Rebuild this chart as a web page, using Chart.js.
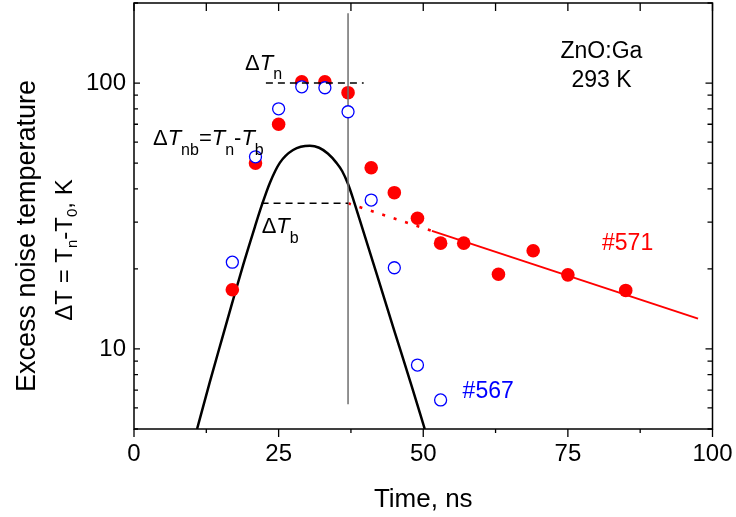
<!DOCTYPE html>
<html>
<head>
<meta charset="utf-8">
<script src="https://cdn.jsdelivr.net/npm/chart.js@4.4.1/dist/chart.umd.min.js"></script>
<style>
  html, body { margin: 0; padding: 0; background: #fff; }
  #wrap { width: 736px; height: 517px; }
</style>
</head>
<body>
<div id="wrap"><canvas id="noise"></canvas></div>
<script>
// sample #571 (filled) and #567 (open), excess noise temperature in K
var time571 = [17, 21, 25, 29, 33, 37, 41, 45, 49, 53, 57, 63, 69, 75, 85];
var noise571 = [16.7, 50, 70, 101, 101, 92, 48, 38.7, 31, 25, 25, 19.1, 23.4, 19, 16.6];
var time567 = [17, 21, 25, 29, 33, 37, 41, 45, 49, 53];
var noise567 = [21.2, 52.8, 80, 96.8, 96, 78, 36.3, 20.2, 8.7, 6.43];

// bias pulse shape
var pulseTime = [10.9, 13.1, 15.15, 16.9, 18.9, 20.9, 22.05, 23.5, 25.2, 27.5, 30.4, 32, 33.5, 35, 36, 37, 38, 39, 42, 45, 48, 50.26];
var pulseNoise = [5, 7.5, 10.8, 14.7, 20.8, 28.8, 34.5, 42.2, 50.1, 56, 58.1, 57.1, 54.3, 50.1, 46.6, 41.7, 36, 30.7, 19, 11.7, 7.25, 5];

// exponential decay fit for #571
var fitTime = [51.5, 97.5];
var fitNoise = [27.8, 13.0];
var fitExtTime = [37, 51.5];
var fitExtNoise = [35.3, 27.8];

// levels and pulse-end marker
var levelNTime = [22.8, 39.7];
var levelNNoise = [100, 100];
var levelBTime = [22.05, 37];
var levelBNoise = [35.3, 35.3];
var markTime = [37, 37];
var markNoise = [6.2, 183];

// axis ticks
var xMajor = [0, 25, 50, 75, 100];
var xMinor = [12.5, 37.5, 62.5, 87.5];
var yMajor = [10, 100];
var yMinor = [5, 6, 7, 8, 9, 20, 30, 40, 50, 60, 70, 80, 90, 200];

var FONT = "'Liberation Sans', Arial, Helvetica, sans-serif";

function pts(xs, ys) {
  return xs.map(function (x, i) { return { x: x, y: ys[i] }; });
}

function partFont(p, size, subScale) {
  var s = p.sub ? Math.round(size * subScale) : size;
  return (p.it ? 'italic ' : '') + s + 'px ' + FONT;
}

// text with italic and subscript pieces
function drawRich(ctx, parts, x, y, size, align, subScale, subShift) {
  var w = 0;
  parts.forEach(function (p) {
    ctx.font = partFont(p, size, subScale);
    w += ctx.measureText(p.t).width;
  });
  var cx = align === 'center' ? x - w / 2 : x;
  ctx.textAlign = 'left';
  ctx.textBaseline = 'alphabetic';
  parts.forEach(function (p) {
    ctx.font = partFont(p, size, subScale);
    ctx.fillText(p.t, cx, y + (p.sub ? subShift : 0));
    cx += ctx.measureText(p.t).width;
  });
}

var framePlugin = {
  id: 'frameAndText',
  afterDraw: function (chart) {
    var ctx = chart.ctx;
    var a = chart.chartArea;
    var sx = chart.scales.x, sy = chart.scales.y;
    ctx.save();
    ctx.strokeStyle = '#000';
    ctx.lineWidth = 1.5;
    ctx.strokeRect(a.left, a.top, a.right - a.left, a.bottom - a.top);

    ctx.lineWidth = 1.3;
    ctx.beginPath();
    xMajor.concat(xMinor).forEach(function (v) {
      var px = sx.getPixelForValue(v);
      var len = xMajor.indexOf(v) >= 0 ? 8 : 4;
      ctx.moveTo(px, a.bottom); ctx.lineTo(px, a.bottom + len);
      ctx.moveTo(px, a.top); ctx.lineTo(px, a.top + 8);
    });
    yMajor.concat(yMinor).forEach(function (v) {
      var py = sy.getPixelForValue(v);
      var major = yMajor.indexOf(v) >= 0;
      ctx.moveTo(a.left, py); ctx.lineTo(a.left + (major ? 6 : 4), py);
      ctx.moveTo(a.right, py); ctx.lineTo(a.right - (major ? 7 : 5), py);
    });
    ctx.stroke();

    ctx.fillStyle = '#000';
    // axis titles
    ctx.font = '26px ' + FONT;
    ctx.textAlign = 'center';
    ctx.textBaseline = 'alphabetic';
    ctx.fillText('Time, ns', (a.left + a.right) / 2, 507);

    ctx.save();
    ctx.translate(35, 236);
    ctx.rotate(-Math.PI / 2);
    ctx.font = '27px ' + FONT;
    ctx.textAlign = 'center';
    ctx.fillText('Excess noise temperature', 0, 0);
    ctx.restore();

    ctx.save();
    ctx.translate(71.5, 250);
    ctx.rotate(-Math.PI / 2);
    drawRich(ctx, [{ t: 'ΔT = T' }, { t: 'n', sub: 1 }, { t: '-T' }, { t: '0', sub: 1 }, { t: ', K' }],
      0, 0, 24, 'center', 0.62, 5);
    ctx.restore();

    // labels placed in data units
    function at(x, y) { return [sx.getPixelForValue(x), sy.getPixelForValue(y)]; }
    var p;
    ctx.font = '23px ' + FONT;
    ctx.textAlign = 'center';
    p = at(80.8, 123.9); ctx.fillText('ZnO:Ga', p[0], p[1]);
    p = at(80.8, 96.4); ctx.fillText('293 K', p[0], p[1]);

    ctx.textAlign = 'left';
    ctx.fillStyle = '#ff0000';
    p = at(80.9, 23.5); ctx.fillText('#571', p[0], p[1]);
    ctx.fillStyle = '#0000ff';
    p = at(56.8, 6.53); ctx.fillText('#567', p[0], p[1]);

    ctx.fillStyle = '#000';
    p = at(19.2, 112);
    drawRich(ctx, [{ t: 'Δ' }, { t: 'T', it: 1 }, { t: 'n', sub: 1 }], p[0], p[1], 22, 'left', 0.72, 9.5);
    p = at(3.28, 58.3);
    drawRich(ctx, [{ t: 'Δ' }, { t: 'T', it: 1 }, { t: 'nb', sub: 1 }, { t: '=' }, { t: 'T', it: 1 },
      { t: 'n', sub: 1 }, { t: '-' }, { t: 'T', it: 1 }, { t: 'b', sub: 1 }], p[0], p[1], 22, 'left', 0.72, 10);
    p = at(22.07, 27.2);
    drawRich(ctx, [{ t: 'Δ' }, { t: 'T', it: 1 }, { t: 'b', sub: 1 }], p[0], p[1], 22, 'left', 0.72, 10);
    ctx.restore();
  }
};

new Chart(document.getElementById('noise'), {
  type: 'scatter',
  data: {
    datasets: [
      {
        data: pts(levelNTime, levelNNoise), showLine: true, order: 0,
        borderColor: '#000', borderWidth: 1.5, borderDash: [7, 5], pointRadius: 0
      },
      {
        data: pts(levelBTime, levelBNoise), showLine: true, order: 0,
        borderColor: '#000', borderWidth: 1.5, borderDash: [7, 5], pointRadius: 0
      },
      {
        label: '#567', data: pts(time567, noise567), order: 1,
        pointRadius: 6, pointBorderWidth: 1.3, pointBorderColor: '#0000ff', pointBackgroundColor: '#fff'
      },
      {
        data: pts(markTime, markNoise), showLine: true, order: 2,
        borderColor: '#6e6e6e', borderWidth: 1.5, pointRadius: 0
      },
      {
        label: '#571', data: pts(time571, noise571), order: 3,
        pointRadius: 6.8, pointBorderWidth: 0, pointBackgroundColor: '#ff0000'
      },
      {
        data: pts(fitTime, fitNoise), showLine: true, order: 4,
        borderColor: '#ff0000', borderWidth: 2, pointRadius: 0
      },
      {
        data: pts(fitExtTime, fitExtNoise), showLine: true, order: 4,
        borderColor: '#ff0000', borderWidth: 2.5, borderDash: [3, 9], pointRadius: 0
      },
      {
        data: pts(pulseTime, pulseNoise), showLine: true, order: 5, cubicInterpolationMode: 'monotone',
        borderColor: '#000', borderWidth: 2.5, pointRadius: 0
      }
    ]
  },
  options: {
    responsive: true,
    maintainAspectRatio: false,
    animation: false,
    layout: { autoPadding: false, padding: { top: 3, right: 23.5, bottom: 0, left: 0 } },
    plugins: { legend: { display: false }, tooltip: { enabled: false } },
    scales: {
      x: {
        type: 'linear', min: 0, max: 100,
        afterBuildTicks: function (s) { s.ticks = xMajor.map(function (v) { return { value: v }; }); },
        afterFit: function (s) { s.height = 88; s.paddingLeft = 0; s.paddingRight = 0; },
        grid: { display: false, drawTicks: false },
        border: { display: false },
        ticks: { font: { size: 24, family: FONT }, color: '#000', padding: 11, maxRotation: 0, autoSkip: false }
      },
      y: {
        type: 'logarithmic', min: 5, max: 200,
        afterBuildTicks: function (s) { s.ticks = yMajor.map(function (v) { return { value: v }; }); },
        afterFit: function (s) { s.width = 134; s.paddingTop = 0; s.paddingBottom = 0; },
        grid: { display: false, drawTicks: false },
        border: { display: false },
        ticks: {
          font: { size: 24, family: FONT }, color: '#000', padding: 8, autoSkip: false,
          callback: function (v) { return String(v); }
        }
      }
    }
  },
  plugins: [framePlugin]
});
</script>
</body>
</html>
